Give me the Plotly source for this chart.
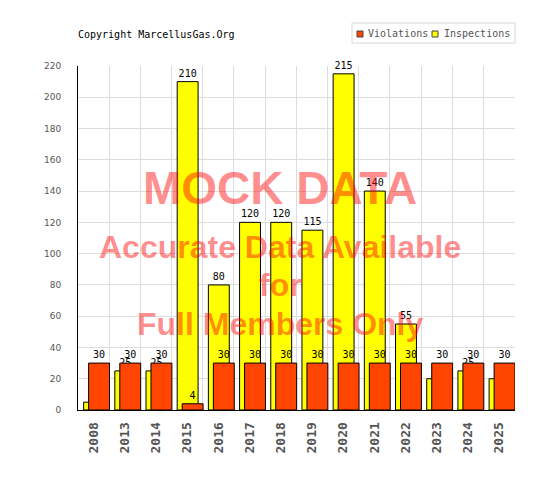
import plotly.graph_objects as go

# datos
years = ["2008", "2013", "2014", "2015", "2016", "2017", "2018",
         "2019", "2020", "2021", "2022", "2023", "2024", "2025"]
inspections = [5, 25, 25, 210, 80, 120, 120, 115, 215, 140, 55, 20, 25, 20]
violations = [30, 30, 30, 4, 30, 30, 30, 30, 30, 30, 30, 30, 30, 30]

MONO = "DejaVu Sans Mono"
WM_COLOR = "rgba(255,0,0,0.45)"
RED = "#ff4500"
YELLOW = "#ffff00"

# el body del html tiene 8px de margen, asi que se trabaja en pixeles de pagina
PAD = 8
W, H = 560 - PAD, 500 - PAD
PL, PR, PT, PB = 78, 515, 66, 410   # area del grafico en la pagina


def px_x(p):
    return (p - PL) / (PR - PL)


def px_y(p):
    return (PB - p) / (PB - PT)


fig = go.Figure()

# barras amarillas detras, rojas delante desplazadas a la derecha
fig.add_trace(go.Bar(
    x=years, y=inspections, name="Inspections",
    marker=dict(color=YELLOW, line=dict(color="black", width=1)),
    offset=-0.32, width=0.67,
    text=inspections, textposition="outside", constraintext="none",
    textfont=dict(family=MONO, size=10, color="black"),
    cliponaxis=False,
))
fig.add_trace(go.Bar(
    x=years, y=violations, name="Violations",
    marker=dict(color=RED, line=dict(color="black", width=1)),
    offset=-0.16, width=0.67,
    text=violations, textposition="outside", constraintext="none",
    textfont=dict(family=MONO, size=10, color="black"),
    cliponaxis=False,
))

# marca de agua
watermark = [
    ("MOCK DATA", 188, 46),
    ("Accurate Data Available", 247, 32),
    ("for", 285, 32),
    ("Full Members Only", 324, 32),
]
for txt, ypix, size in watermark:
    fig.add_annotation(
        text=txt, xref="paper", yref="paper",
        x=px_x(280), y=px_y(ypix),
        showarrow=False, xanchor="center", yanchor="middle",
        font=dict(family="Liberation Sans", size=size, color=WM_COLOR,
                  weight="bold"),
    )

# leyenda compacta (caja, cuadritos y textos)
fig.add_shape(type="rect", xref="paper", yref="paper",
              x0=px_x(352), x1=px_x(515), y0=px_y(43), y1=px_y(23),
              line=dict(color="#d8d8d8", width=1), fillcolor="white")
legend_items = [("Violations", RED, 357, 366), ("Inspections", YELLOW, 432, 442)]
for name, color, sq_x, txt_x in legend_items:
    fig.add_shape(type="rect", xref="paper", yref="paper",
                  x0=px_x(sq_x), x1=px_x(sq_x + 6), y0=px_y(37), y1=px_y(31),
                  line=dict(color="#444", width=1), fillcolor=color)
    fig.add_annotation(text=name, xref="paper", yref="paper",
                       x=px_x(txt_x), y=px_y(33.5), xanchor="left",
                       yanchor="middle", showarrow=False,
                       font=dict(family=MONO, size=10, color="#555"))

fig.update_layout(
    width=W, height=H,
    margin=dict(l=PL - PAD, r=W - (PR - PAD), t=PT - PAD, b=H - (PB - PAD)),
    paper_bgcolor="white", plot_bgcolor="white",
    barmode="overlay",
    title=dict(text="Copyright MarcellusGas.Org", xref="container",
               x=(78 - PAD) / W, xanchor="left", y=1 - (34 - PAD) / H,
               yanchor="middle",
               font=dict(family=MONO, size=10, color="black")),
    showlegend=False,
)
fig.update_xaxes(
    type="category", tickson="boundaries", showgrid=True, gridcolor="#dddddd",
    showline=True, linecolor="black", linewidth=1, ticks="",
    tickangle=-90, ticklabelstandoff=6,
    tickfont=dict(family=MONO, size=13, color="#555", weight="bold"),
)
fig.update_yaxes(
    range=[0, 220], dtick=20, showgrid=True, gridcolor="#dddddd",
    showline=True, linecolor="black", linewidth=1, ticks="", zeroline=False,
    ticklabelstandoff=14,
    tickfont=dict(family="DejaVu Sans", size=9, color="#555"),
)

fig.write_html("out.html")
